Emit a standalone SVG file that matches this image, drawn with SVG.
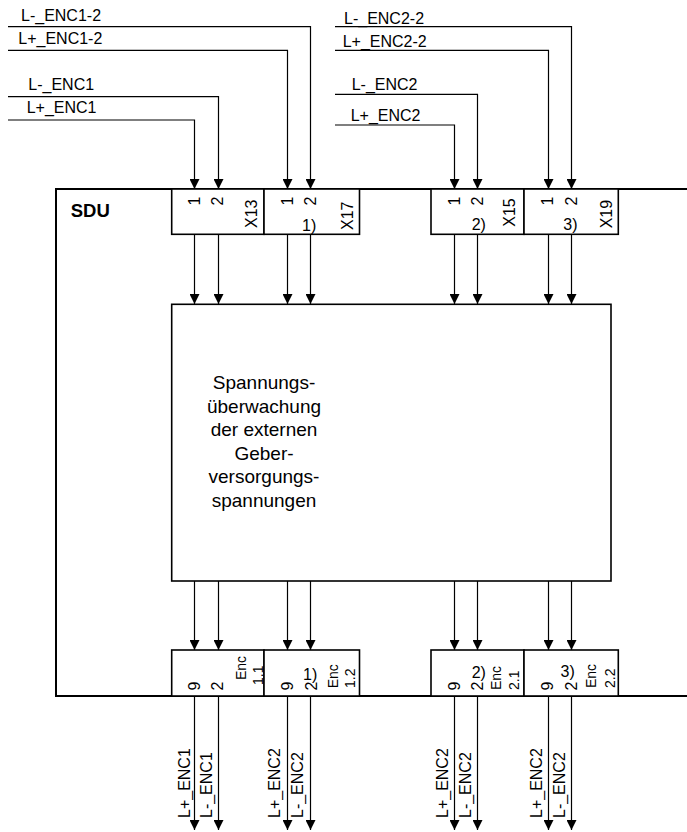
<svg xmlns="http://www.w3.org/2000/svg" width="687" height="832" viewBox="0 0 687 832">
<defs>
<marker id="ah" markerUnits="userSpaceOnUse" markerWidth="10" markerHeight="10" refX="10" refY="5" orient="auto">
<path d="M0,0 L10,5 L0,10 Z" fill="#000"/>
</marker>
<style>
text{font-family:"Liberation Sans",Arial,sans-serif;fill:#000}
.lbl{font-size:16px}
.pin{font-size:16px;text-anchor:middle}
.enc{font-size:14px}
.ctr{font-size:19px;text-anchor:middle}
.box{fill:#fff;stroke:#000;stroke-width:1.6}
.frame{fill:none;stroke:#000;stroke-width:2}
.wire{fill:none;stroke:#000;stroke-width:1.2;marker-end:url(#ah)}
</style>
</defs>
<rect width="687" height="832" fill="#fff"/>

<g id="sdu">
<path class="frame" d="M687,189 H56 V696 H687"/>
<text x="70.7" y="217.3" font-size="18.5" font-weight="bold">SDU</text>
</g>

<g id="connectors">
<path class="wire" d="M8,120 H194.5 V189"/>
<path class="wire" d="M8,96.7 H218.5 V189"/>
<path class="wire" d="M8,50.3 H287.5 V189"/>
<path class="wire" d="M8,26.7 H310.5 V189"/>
<path class="wire" d="M335,125 H454.5 V189"/>
<path class="wire" d="M335,94.3 H477.5 V189"/>
<path class="wire" d="M335,50.3 H548.5 V189"/>
<path class="wire" d="M335,26.7 H571.5 V189"/>

<path class="wire" d="M194.5,234 V304"/>
<path class="wire" d="M218.5,234 V304"/>
<path class="wire" d="M287.5,234 V304"/>
<path class="wire" d="M310.5,234 V304"/>
<path class="wire" d="M454.5,234 V304"/>
<path class="wire" d="M477.5,234 V304"/>
<path class="wire" d="M548.5,234 V304"/>
<path class="wire" d="M571.5,234 V304"/>

<path class="wire" d="M194.5,581 V650"/>
<path class="wire" d="M218.5,581 V650"/>
<path class="wire" d="M287.5,581 V650"/>
<path class="wire" d="M310.5,581 V650"/>
<path class="wire" d="M454.5,581 V650"/>
<path class="wire" d="M477.5,581 V650"/>
<path class="wire" d="M548.5,581 V650"/>
<path class="wire" d="M571.5,581 V650"/>

<path class="wire" d="M194.5,696 V830"/>
<path class="wire" d="M218.5,696 V830"/>
<path class="wire" d="M287.5,696 V830"/>
<path class="wire" d="M310.5,696 V830"/>
<path class="wire" d="M454.5,696 V830"/>
<path class="wire" d="M477.5,696 V830"/>
<path class="wire" d="M548.5,696 V830"/>
<path class="wire" d="M571.5,696 V830"/>
</g>

<g id="labels-in">
<text class="lbl" x="21" y="20.5">L-_ENC1-2</text>
<text class="lbl" x="18.3" y="43.8">L+_ENC1-2</text>
<text class="lbl" x="28.3" y="89.5">L-_ENC1</text>
<text class="lbl" x="26.7" y="113">L+_ENC1</text>
<text class="lbl" x="344" y="23.8">L-_ENC2-2</text>
<text class="lbl" x="342.7" y="47">L+_ENC2-2</text>
<text class="lbl" x="351.7" y="89.8">L-_ENC2</text>
<text class="lbl" x="350.7" y="121">L+_ENC2</text>
</g>

<g id="X13">
<rect class="box" x="171.7" y="189" width="92.3" height="45.3"/>
<text class="pin" transform="translate(199.7,201) rotate(-90)">1</text>
<text class="pin" transform="translate(223.4,201) rotate(-90)">2</text>
<text class="lbl" transform="translate(257.2,228) rotate(-90)">X13</text>
</g>
<g id="X17">
<rect class="box" x="264" y="189" width="95.5" height="45.3"/>
<text class="pin" transform="translate(293.2,201) rotate(-90)">1</text>
<text class="pin" transform="translate(316.4,201) rotate(-90)">2</text>
<text class="lbl" x="302" y="231">1)</text>
<text class="lbl" transform="translate(353.2,230) rotate(-90)">X17</text>
</g>
<g id="X15">
<rect class="box" x="431" y="189" width="93" height="45.3"/>
<text class="pin" transform="translate(459.9,201) rotate(-90)">1</text>
<text class="pin" transform="translate(483.2,201) rotate(-90)">2</text>
<text class="lbl" x="471.7" y="230">2)</text>
<text class="lbl" transform="translate(514.7,226.7) rotate(-90)">X15</text>
</g>
<g id="X19">
<rect class="box" x="524" y="189" width="94.3" height="45.3"/>
<text class="pin" transform="translate(553.4,201) rotate(-90)">1</text>
<text class="pin" transform="translate(577,201) rotate(-90)">2</text>
<text class="lbl" x="563.3" y="230">3)</text>
<text class="lbl" transform="translate(612.4,228.3) rotate(-90)">X19</text>
</g>

<g id="monitor">
<rect class="box" x="171.7" y="304.3" width="439.3" height="276.7"/>
<text class="ctr" x="264" y="389">Spannungs-</text>
<text class="ctr" x="264" y="412.5">überwachung</text>
<text class="ctr" x="264" y="436">der externen</text>
<text class="ctr" x="264" y="459.5">Geber-</text>
<text class="ctr" x="264" y="483">versorgungs-</text>
<text class="ctr" x="264" y="506.5">spannungen</text>
</g>

<g id="Enc11">
<rect class="box" x="171.7" y="650" width="92.3" height="46"/>
<text class="pin" transform="translate(199.7,686) rotate(-90)">9</text>
<text class="pin" transform="translate(223.2,686) rotate(-90)">2</text>
<text class="enc" transform="translate(245.5,680) rotate(-90)" font-size="11">Enc</text>
<text class="enc" transform="translate(262.5,685) rotate(-90)" font-size="11">1.1</text>
</g>
<g id="Enc12">
<rect class="box" x="264" y="650" width="95.5" height="46"/>
<text class="pin" transform="translate(293.2,686) rotate(-90)">9</text>
<text class="pin" transform="translate(316.7,686) rotate(-90)">2</text>
<text class="lbl" x="303" y="680">1)</text>
<text class="enc" transform="translate(337.5,688.3) rotate(-90)">Enc</text>
<text class="enc" transform="translate(355,688) rotate(-90)">1.2</text>
</g>
<g id="Enc21">
<rect class="box" x="431" y="650" width="93" height="46"/>
<text class="pin" transform="translate(459.7,686) rotate(-90)">9</text>
<text class="pin" transform="translate(483.2,686) rotate(-90)">2</text>
<text class="lbl" x="471.7" y="678">2)</text>
<text class="enc" transform="translate(501,690) rotate(-90)">Enc</text>
<text class="enc" transform="translate(519,690) rotate(-90)">2.1</text>
</g>
<g id="Enc22">
<rect class="box" x="524" y="650" width="94.3" height="46"/>
<text class="pin" transform="translate(553.2,686) rotate(-90)">9</text>
<text class="pin" transform="translate(576.7,686) rotate(-90)">2</text>
<text class="lbl" x="560.5" y="677">3)</text>
<text class="enc" transform="translate(596,688) rotate(-90)">Enc</text>
<text class="enc" transform="translate(615,688) rotate(-90)">2.2</text>
</g>

<g id="labels-out">
<text class="lbl" transform="translate(189.5,818) rotate(-90)">L+_ENC1</text>
<text class="lbl" transform="translate(211.5,818) rotate(-90)">L-_ENC1</text>
<text class="lbl" transform="translate(279.8,818) rotate(-90)">L+_ENC2</text>
<text class="lbl" transform="translate(303.2,818) rotate(-90)">L-_ENC2</text>
<text class="lbl" transform="translate(448.2,818) rotate(-90)">L+_ENC2</text>
<text class="lbl" transform="translate(470.8,818) rotate(-90)">L-_ENC2</text>
<text class="lbl" transform="translate(541.5,818) rotate(-90)">L+_ENC2</text>
<text class="lbl" transform="translate(564.8,818) rotate(-90)">L-_ENC2</text>
</g>
</svg>
